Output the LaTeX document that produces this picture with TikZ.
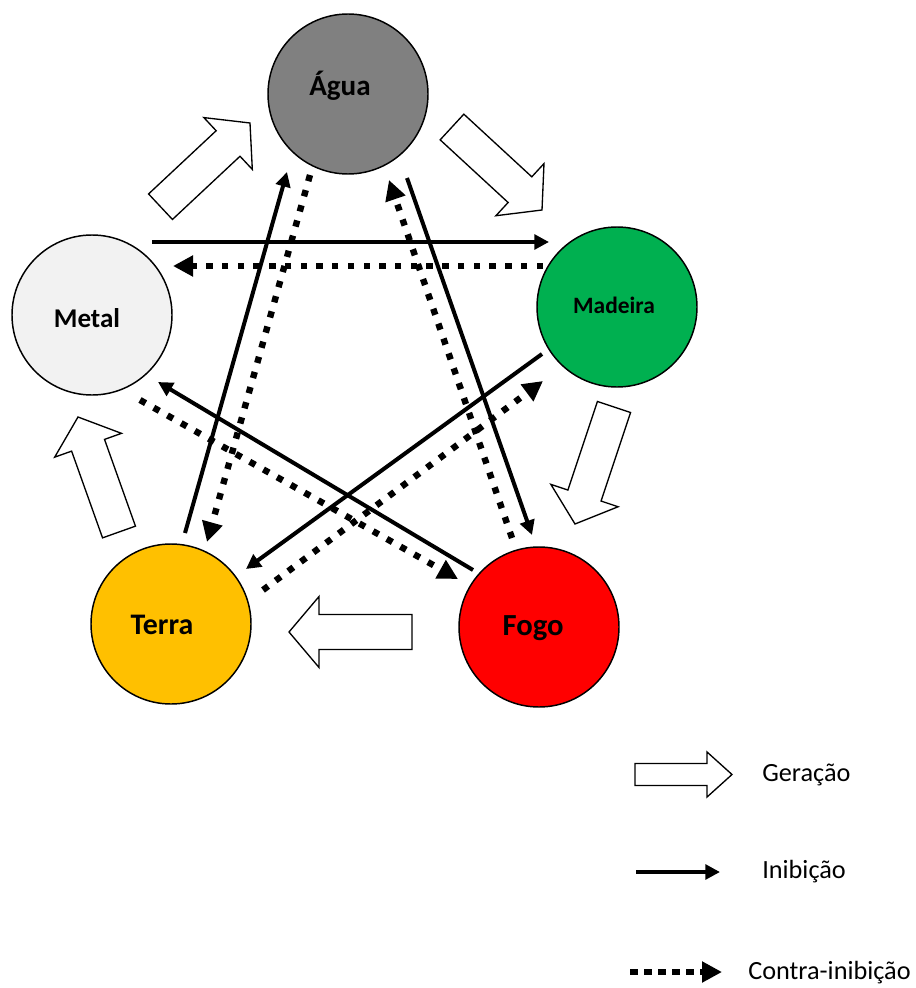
\documentclass[tikz,border=0pt]{standalone}
\usepackage{fontspec}
\setmainfont{Carlito}
\usetikzlibrary{arrows.meta,calc}
\definecolor{cagua}{HTML}{808080}
\definecolor{cmadeira}{HTML}{00B050}
\definecolor{cmetal}{HTML}{F2F2F2}
\definecolor{cterra}{HTML}{FFC000}
\definecolor{cfogo}{HTML}{FF0000}
\tikzset{
  elem/.style={circle,draw=black,line width=1.1pt,minimum size=120pt,inner sep=0pt,font=\bfseries},
  inib/.style={line width=3pt,-{Triangle[length=11pt,width=11pt]}},
  contra/.style={line width=4.8pt,dash pattern=on 4.8pt off 7pt,-{Triangle[length=15pt,width=15pt]}},
  gen/.style={draw=black,fill=white,line width=1pt,line join=miter},
  legtext/.style={anchor=west,font=\fontsize{19.7}{23}\selectfont,inner sep=0pt}
}
% block arrow: tail, tip, half shaft width, half head width, head length
\newcommand{\genarrow}[5]{%
  \coordinate (gm) at ($(#2)!#5!(#1)$);
  \draw[gen] ($(#1)!#3!90:(#2)$) -- ($(gm)!#3!-90:(#1)$) -- ($(gm)!#4!-90:(#1)$) -- (#2)
    -- ($(gm)!#4!90:(#1)$) -- ($(gm)!#3!90:(#1)$) -- ($(#1)!#3!-90:(#2)$) -- cycle;
}
\begin{document}
\begin{tikzpicture}[x=0.75pt,y=-0.75pt]
\useasboundingbox (0,0) rectangle (915,988);
% elements
\node[elem,fill=cagua] (agua) at (348,94) {};
\node[font=\bfseries\fontsize{21.8}{26}\selectfont] (taguatxt) at (340,86) {Água};
\node[elem,fill=cmadeira] (madeira) at (617,307) {};
\node[font=\bfseries\fontsize{17.6}{21}\selectfont] (tmad) at (614,305) {Madeira};
\node[elem,fill=cmetal] (metal) at (92,315) {};
\node[font=\bfseries\fontsize{20.3}{24}\selectfont] (tmetal) at (87,318) {Metal};
\node[elem,fill=cterra] (terra) at (171,624) {};
\node[font=\bfseries\fontsize{22.4}{26}\selectfont] (tterra) at (162,625) {Terra};
\node[elem,fill=cfogo] (fogo) at (539,627) {};
\node[font=\bfseries\fontsize{23}{27}\selectfont] (tfogo) at (533,628) {Fogo};

% generation arrows
\coordinate (g1a) at (160.5,206.7); \coordinate (g1b) at (250,123);
\coordinate (g2a) at (452,127);     \coordinate (g2b) at (542,210);
\coordinate (g3a) at (614,407);     \coordinate (g3b) at (575,524);
\coordinate (g4a) at (412,632);     \coordinate (g4b) at (289,632);
\coordinate (g5a) at (119,532);     \coordinate (g5b) at (78,417);
\genarrow{g1a}{g1b}{13.1pt}{26.6pt}{22.5pt}
\genarrow{g2a}{g2b}{13.1pt}{26.6pt}{22.5pt}
\genarrow{g3a}{g3b}{13.1pt}{26.6pt}{22.5pt}
\genarrow{g4a}{g4b}{13.1pt}{26.6pt}{22.5pt}
\genarrow{g5a}{g5b}{13.1pt}{26.6pt}{22.5pt}

% inhibition
\coordinate (s1a) at (152,242); \coordinate (s1b) at (549,242);
\coordinate (s2a) at (542,354); \coordinate (s2b) at (246,569);
\coordinate (s3a) at (185,533); \coordinate (s3b) at (287,172);
\coordinate (s4a) at (407,178); \coordinate (s4b) at (532,535);
\coordinate (s5a) at (473,570); \coordinate (s5b) at (158,382);
\draw[inib] (s1a) -- (s1b);
\draw[inib] (s2a) -- (s2b);
\draw[inib] (s3a) -- (s3b);
\draw[inib] (s4a) -- (s4b);
\draw[inib] (s5a) -- (s5b);

% counter-inhibition
\coordinate (d1a) at (543,266); \coordinate (d1b) at (173,266);
\coordinate (d2a) at (140,400); \coordinate (d2b) at (458,579);
\coordinate (d3a) at (512,538); \coordinate (d3b) at (389,180);
\coordinate (d4a) at (310,175); \coordinate (d4b) at (207,542);
\coordinate (d5a) at (263,590); \coordinate (d5b) at (543,381);
\draw[contra] (d1a) -- (d1b);
\draw[contra] (d2a) -- (d2b);
\draw[contra] (d3a) -- (d3b);
\draw[contra] (d4a) -- (d4b);
\draw[contra] (d5a) -- (d5b);

% legend
\coordinate (lga) at (635,774.5); \coordinate (lgb) at (732,774.5);
\genarrow{lga}{lgb}{8.25pt}{16.9pt}{18.75pt}
\node[legtext] (lgt) at (762,775) {Geração};
\coordinate (lia) at (636,872); \coordinate (lib) at (720,872);
\draw[inib] (lia) -- (lib);
\node[legtext] (lit) at (762,872) {Inibição};
\coordinate (lca) at (630,972); \coordinate (lcb) at (722,972);
\draw[contra,dash pattern=on 6pt off 4.5pt] (lca) -- (lcb);
\node[legtext] (lct) at (748,973) {Contra-inibição};
\end{tikzpicture}
\end{document}
